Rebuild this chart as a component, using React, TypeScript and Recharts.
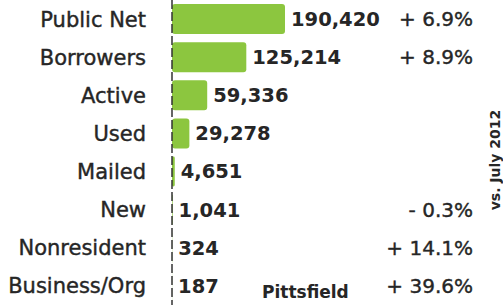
import React from 'react';
import { BarChart, Bar, XAxis, YAxis, LabelList } from 'recharts';

const categories = ['Public Net', 'Borrowers', 'Active', 'Used', 'Mailed', 'New', 'Nonresident', 'Business/Org'];
const counts = [190420, 125214, 59336, 29278, 4651, 1041, 324, 187];
const changes = ['+ 6.9%', '+ 8.9%', '', '', '', '- 0.3%', '+ 14.1%', '+ 39.6%'];

const data = categories.map((name, i) => ({ name, count: counts[i], change: changes[i] }));

const FONT = '"DejaVu Sans", sans-serif';
const INK = '#262626';

const ChangeLabel = (props: any) => {
  const { y, height, value } = props;
  if (!value) return null;
  return (
    <text
      x={473}
      y={y + height / 2}
      dy={7}
      textAnchor="end"
      fill={INK}
      stroke={INK}
      strokeWidth={0.4}
      fontSize={20}
      fontFamily={FONT}
    >
      {value}
    </text>
  );
};

const App = () => {
  return (
    <div style={{ position: 'absolute', left: 0, top: 0, width: 503, height: 305, background: '#fff' }}>
      <BarChart
        width={503}
        height={305}
        data={data}
        layout="vertical"
        margin={{ top: 0, right: 218, bottom: 0, left: 0 }}
        barCategoryGap={8}
      >
        <XAxis type="number" hide domain={[0, 'dataMax']} />
        <YAxis
          type="category"
          dataKey="name"
          width={172}
          tickLine={false}
          tickMargin={20}
          axisLine={{ stroke: '#333', strokeWidth: 1.5, strokeDasharray: '9 3' }}
          tick={{ fill: INK, stroke: INK, strokeWidth: 0.4, fontSize: 21, fontFamily: FONT }}
          interval={0}
        />
        <Bar dataKey="count" fill="#8cc63f" barSize={30} radius={3} isAnimationActive={false}>
          <LabelList
            dataKey="count"
            position="right"
            offset={6}
            formatter={(v: any) => Number(v).toLocaleString('en-US')}
            style={{ fill: INK, fontSize: 19.5, fontWeight: 700, fontFamily: FONT }}
          />
          <LabelList dataKey="change" content={ChangeLabel} />
        </Bar>
      </BarChart>
      <div
        style={{
          position: 'absolute',
          left: 262,
          top: 281,
          fontFamily: FONT,
          fontWeight: 700,
          fontSize: 17,
          color: INK,
          lineHeight: '22px',
        }}
      >
        Pittsfield
      </div>
      <div
        style={{
          position: 'absolute',
          left: 495,
          top: 160,
          transform: 'translate(-50%, -50%) rotate(-90deg)',
          fontFamily: FONT,
          fontWeight: 700,
          fontSize: 14,
          color: INK,
          whiteSpace: 'nowrap',
        }}
      >
        vs. July 2012
      </div>
    </div>
  );
};

export default App;
